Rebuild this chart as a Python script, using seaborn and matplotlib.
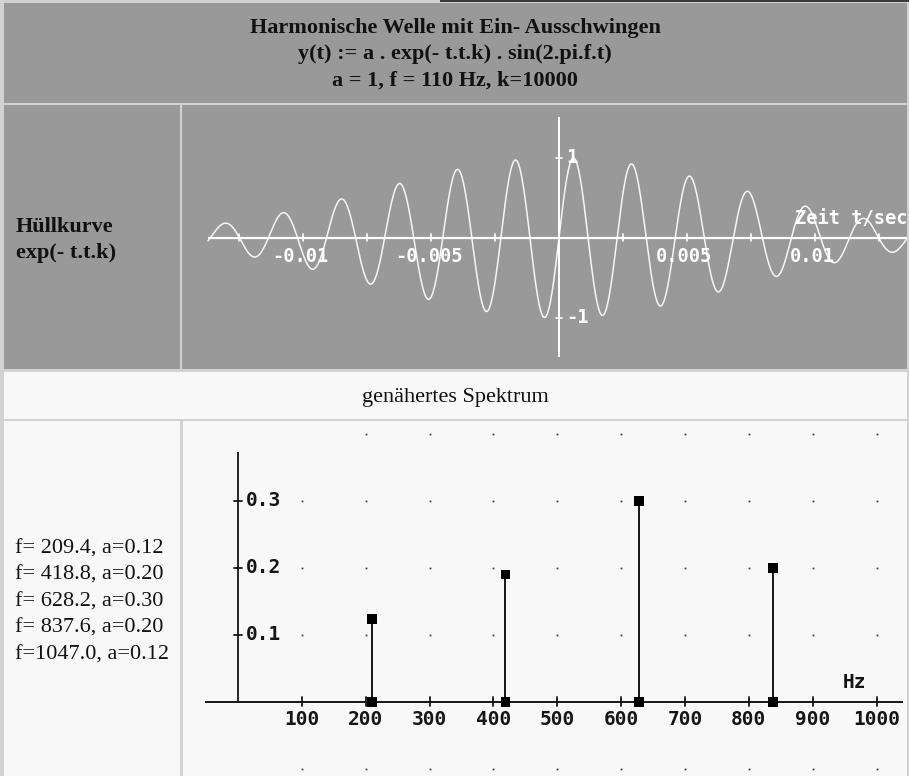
import numpy as np
import pandas as pd
import matplotlib
matplotlib.use("Agg")
import matplotlib.pyplot as plt
from matplotlib.patches import Rectangle
import seaborn as sns

sns.set_theme(style="white")
plt.rcParams["font.family"] = ["Liberation Serif", "DejaVu Serif"]

# ---------------- data ----------------
title_lines = ["Harmonische Welle mit Ein- Ausschwingen",
               "y(t) := a . exp(- t.t.k) . sin(2.pi.f.t)",
               "a = 1, f = 110 Hz, k=10000"]
left_top_lines = ["Hüllkurve", "exp(- t.t.k)"]
mid_label = "genähertes Spektrum"

# wave parameters (amplitude & envelope from the title; period)
wave_a = 1.0
wave_k = 10000.0
wave_f_drawn = 440.0
wave_t_start = -0.01373
wave_t_end = 0.01361
wave_xticks = [-0.0125, -0.01, -0.0075, -0.005, -0.0025, 0.0025, 0.005, 0.0075, 0.01, 0.0125]
wave_xlabels = {-0.01: "-0.01", -0.005: "-0.005", 0.005: "0.005", 0.01: "0.01"}
wave_yticks = [1, -1]
wave_ylabels = ["1", "-1"]

# spectrum
list_freq = [209.4, 418.8, 628.2, 837.6, 1047.0]
list_amp = [0.12, 0.20, 0.30, 0.20, 0.12]
spec_freq = [209.4, 418.8, 628.2, 837.6]
spec_amp = [0.123, 0.19, 0.30, 0.20]
spec_xticks = [100, 200, 300, 400, 500, 600, 700, 800, 900, 1000]
spec_yticks = [0.1, 0.2, 0.3]
spec_ylabels = ["0.1", "0.2", "0.3"]
grid_rows = [-0.1, 0.1, 0.2, 0.3, 0.4]

# ---------------- layout ----------------
W, H = 909, 776
GRAY = "#999999"
LIGHT = "#f8f8f8"
fig = plt.figure(figsize=(W / 100, H / 100), dpi=100, facecolor="#d2d2d2")
SERIF = "Liberation Serif"


def rect(x0, y0, x1, y1, color):
    fig.patches.append(Rectangle((x0 / W, 1 - y1 / H), (x1 - x0) / W, (y1 - y0) / H,
                                 transform=fig.transFigure, facecolor=color,
                                 edgecolor="none", zorder=-10))


def ftext(x, y, s, **kw):
    fig.text(x / W, 1 - y / H, s, **kw)


rect(440, 0, 909, 1.5, "#3a3a3a")
rect(4, 3, 907, 103, GRAY)
rect(4, 105, 180, 369, GRAY)
rect(182, 105, 907, 369, GRAY)
rect(4, 372, 907, 419, LIGHT)
rect(4, 421, 180, 776, LIGHT)
rect(183, 421, 907, 776, LIGHT)

for i, s in enumerate(title_lines):
    ftext(455, 33.3 + 26 * i, s, ha="center", va="baseline", fontsize=16,
          fontweight="bold", color="#111111", family=SERIF)
for i, s in enumerate(left_top_lines):
    ftext(16, 231.7 + 26.3 * i, s, ha="left", va="baseline", fontsize=16,
          fontweight="bold", color="#111111", family=SERIF)
ftext(455, 401.7, mid_label, ha="center", va="baseline", fontsize=16, color="#111111",
      family=SERIF)
for i, (f, a) in enumerate(zip(list_freq, list_amp)):
    fs = f"{f:.1f}"
    s = f"f={fs}, a={a:.2f}" if f >= 1000 else f"f= {fs}, a={a:.2f}"
    ftext(15, 553.3 + 26.5 * i, s, ha="left", va="baseline", fontsize=16, color="#111111",
          family=SERIF)

mono = dict(family="DejaVu Sans Mono", fontweight="bold")

# ---------------- top plot: waveform ----------------
ax1 = fig.add_axes([182 / W, 1 - 369 / H, (907 - 182) / W, (369 - 105) / H], zorder=2)
ax1.patch.set_alpha(0)
t = np.linspace(wave_t_start, wave_t_end, 3000)
y = wave_a * np.exp(-t * t * wave_k) * np.sin(2 * np.pi * wave_f_drawn * t)
df_wave = pd.DataFrame({"t": t, "y": y})
sns.lineplot(data=df_wave, x="t", y="y", ax=ax1, color="#f6f6f6", linewidth=1.1,
             sort=False, estimator=None)
ax1.plot([wave_t_start, 0.0137], [0, 0], color="white", lw=1.6, solid_capstyle="butt")
ax1.plot([0, 0], [-1.49, 1.51], color="white", lw=1.4, solid_capstyle="butt")
for xt in wave_xticks:
    ax1.plot([xt, xt], [-0.045, 0.045], color="white", lw=1.2)
for yt, lab in zip(wave_yticks, wave_ylabels):
    ax1.plot([-0.00012, 0.00012], [yt, yt], color="white", lw=1.2)
    ax1.text(0.00027, yt, lab, ha="left", va="center", fontsize=13.5, color="white", **mono)
for xv, lab in wave_xlabels.items():
    ax1.text(xv - 0.0001, -0.2375, lab, ha="center", va="center", fontsize=13.5,
             color="white", **mono)
ax1.text(0.01362, 0.246, "Zeit t/sec", ha="right", va="center", fontsize=13.5,
         color="white", **mono)
ax1.set_xlim((182 - 559) / 25570, (907 - 559) / 25570)
ax1.set_ylim((237.7 - 369) / 80, (237.7 - 105) / 80)
ax1.axis("off")

# ---------------- bottom plot: spectrum ----------------
ax2 = fig.add_axes([183 / W, 1 - 776 / H, (907 - 183) / W, (776 - 421) / H], zorder=2)
ax2.patch.set_alpha(0)
INK = "#151515"
# grid dots
gx, gy = [], []
for r in grid_rows:
    for c in spec_xticks:
        if r == 0.4 and c == 100:
            continue
        gx.append(c)
        gy.append(r)
ax2.plot(gx, gy, linestyle="none", marker="s", markersize=1.3, color="#404040",
         markeredgewidth=0)
ax2.plot([-51, 1042], [0, 0], color=INK, lw=1.4, solid_capstyle="butt")
ax2.plot([0, 0], [0, 0.373], color=INK, lw=1.3, solid_capstyle="butt")
for xt in spec_xticks:
    ax2.plot([xt, xt], [-0.0065, 0.0065], color=INK, lw=1.3)
    ax2.text(xt, -0.0273, str(xt), ha="center", va="center", fontsize=14, color=INK, **mono)
for yt, lab in zip(spec_yticks, spec_ylabels):
    ax2.plot([-6, 6], [yt, yt], color=INK, lw=1.3)
    ax2.text(12, yt, lab, ha="left", va="center", fontsize=14, color=INK, **mono)
ax2.text(966, 0.029, "Hz", ha="center", va="center", fontsize=14, color=INK, **mono)
ax2.vlines(spec_freq, 0, spec_amp, color=INK, lw=1.4)
df_spec = pd.DataFrame({"f": spec_freq * 2, "a": spec_amp + [0.0] * len(spec_amp)})
sns.scatterplot(data=df_spec, x="f", y="a", ax=ax2, marker="s", s=48, color="black",
                edgecolor="none", zorder=5)
ax2.set_xlim((183 - 238) / 0.6385, (907 - 238) / 0.6385)
ax2.set_ylim((701.7 - 776) / 670, (701.7 - 421) / 670)
ax2.axis("off")

fig.savefig("out.png", dpi=100, facecolor=fig.get_facecolor())
